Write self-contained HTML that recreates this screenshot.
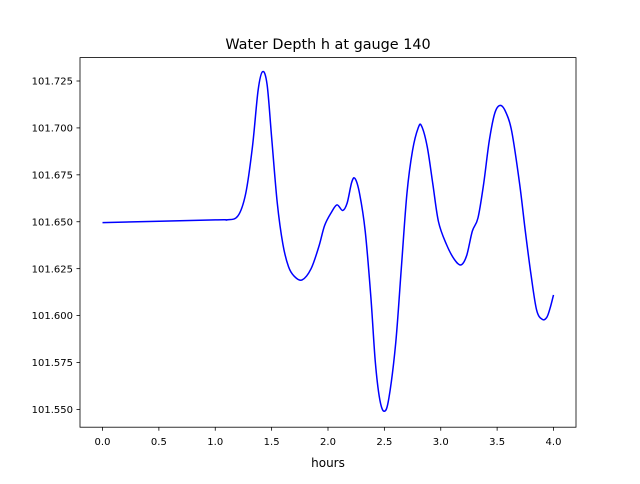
<!DOCTYPE html>
<html><head><meta charset="utf-8"><style>
body{margin:0;background:#fff;font-family:"DejaVu Sans","Liberation Sans",sans-serif;}
text{font-family:"DejaVu Sans","Liberation Sans",sans-serif;}
</style></head><body>
<svg id="chart" width="640" height="480" xmlns="http://www.w3.org/2000/svg">
<rect x="0" y="0" width="640" height="480" fill="#fff"/>
<text x="328" y="49" font-size="14.4" text-anchor="middle">Water Depth h at gauge 140</text>
<g id="xticks"></g>
<g id="yticks"></g>
<path id="line" fill="none" stroke="#0000ff" stroke-width="1.5"/>
<rect x="80" y="57.6" width="496" height="369.6" fill="none" stroke="#000" stroke-width="0.8"/>
<text x="328" y="467" font-size="12" text-anchor="middle">hours</text>
</svg>
<script>
const hours=[0,1.0,1.1,1.2,1.27,1.33,1.38,1.42,1.46,1.5,1.55,1.6,1.65,1.7,1.77,1.85,1.92,1.97,2.03,2.08,2.13,2.17,2.21,2.24,2.28,2.33,2.38,2.42,2.46,2.5,2.54,2.6,2.65,2.7,2.75,2.8,2.83,2.88,2.93,2.98,3.05,3.12,3.18,3.23,3.28,3.33,3.38,3.43,3.48,3.53,3.58,3.63,3.7,3.75,3.8,3.85,3.9,3.94,3.97,4.0];
const depth=[101.6495,101.651,101.651,101.653,101.665,101.69,101.72,101.730,101.723,101.695,101.66,101.638,101.626,101.621,101.619,101.625,101.637,101.648,101.655,101.659,101.656,101.660,101.671,101.673,101.665,101.645,101.610,101.575,101.555,101.549,101.556,101.585,101.625,101.665,101.688,101.700,101.701,101.69,101.670,101.650,101.638,101.630,101.627,101.632,101.645,101.652,101.670,101.693,101.708,101.712,101.708,101.698,101.670,101.645,101.622,101.603,101.598,101.599,101.604,101.611];
const xTicks=[0,0.5,1.0,1.5,2.0,2.5,3.0,3.5,4.0];
const xTickLabels=["0.0","0.5","1.0","1.5","2.0","2.5","3.0","3.5","4.0"];
const yTicks=[101.55,101.575,101.6,101.625,101.65,101.675,101.7,101.725];
const yTickLabels=["101.550","101.575","101.600","101.625","101.650","101.675","101.700","101.725"];
const NS="http://www.w3.org/2000/svg";
function xs(v){return 102.5+v*112.75;}
function ys(v){return 409.4-(v-101.55)*(328.4/0.175);}
const xg=document.getElementById('xticks');
xTicks.forEach((t,i)=>{
 const l=document.createElementNS(NS,'line');
 
 
 l.setAttribute('x1',xs(t));l.setAttribute('x2',xs(t));l.setAttribute('y1',427.2);l.setAttribute('y2',430.7);l.setAttribute('stroke','#000');l.setAttribute('stroke-width','0.8');
 xg.appendChild(l);
 const tx=document.createElementNS(NS,'text');
 
 
 tx.setAttribute('x',xs(t));tx.setAttribute('y',445);tx.setAttribute('font-size','10');tx.setAttribute('text-anchor','middle');
 tx.textContent=xTickLabels[i];xg.appendChild(tx);
});
const yg=document.getElementById('yticks');
yTicks.forEach((t,i)=>{
 const l=document.createElementNS(NS,'line');
 
 
 l.setAttribute('x1',76.5);l.setAttribute('x2',80);l.setAttribute('y1',ys(t));l.setAttribute('y2',ys(t));l.setAttribute('stroke','#000');l.setAttribute('stroke-width','0.8');
 yg.appendChild(l);
 const tx=document.createElementNS(NS,'text');
 
 
 tx.setAttribute('x',73);tx.setAttribute('y',ys(t)+3.6);tx.setAttribute('font-size','10');tx.setAttribute('text-anchor','end');
 tx.textContent=yTickLabels[i];yg.appendChild(tx);
});
// Catmull-Rom smooth path
const P=hours.map((h,i)=>[xs(h),ys(depth[i])]);
let d='M'+P[0][0]+','+P[0][1];
for(let i=0;i<P.length-1;i++){
 const p0=P[i-1]||P[i],p1=P[i],p2=P[i+1],p3=P[i+2]||P[i+1];
 const c1=[p1[0]+(p2[0]-p0[0])/6,p1[1]+(p2[1]-p0[1])/6];
 const c2=[p2[0]-(p3[0]-p1[0])/6,p2[1]-(p3[1]-p1[1])/6];
 d+=' C'+c1[0]+','+c1[1]+' '+c2[0]+','+c2[1]+' '+p2[0]+','+p2[1];
}
document.getElementById('line').setAttribute('d',d);
</script>
</body></html>
